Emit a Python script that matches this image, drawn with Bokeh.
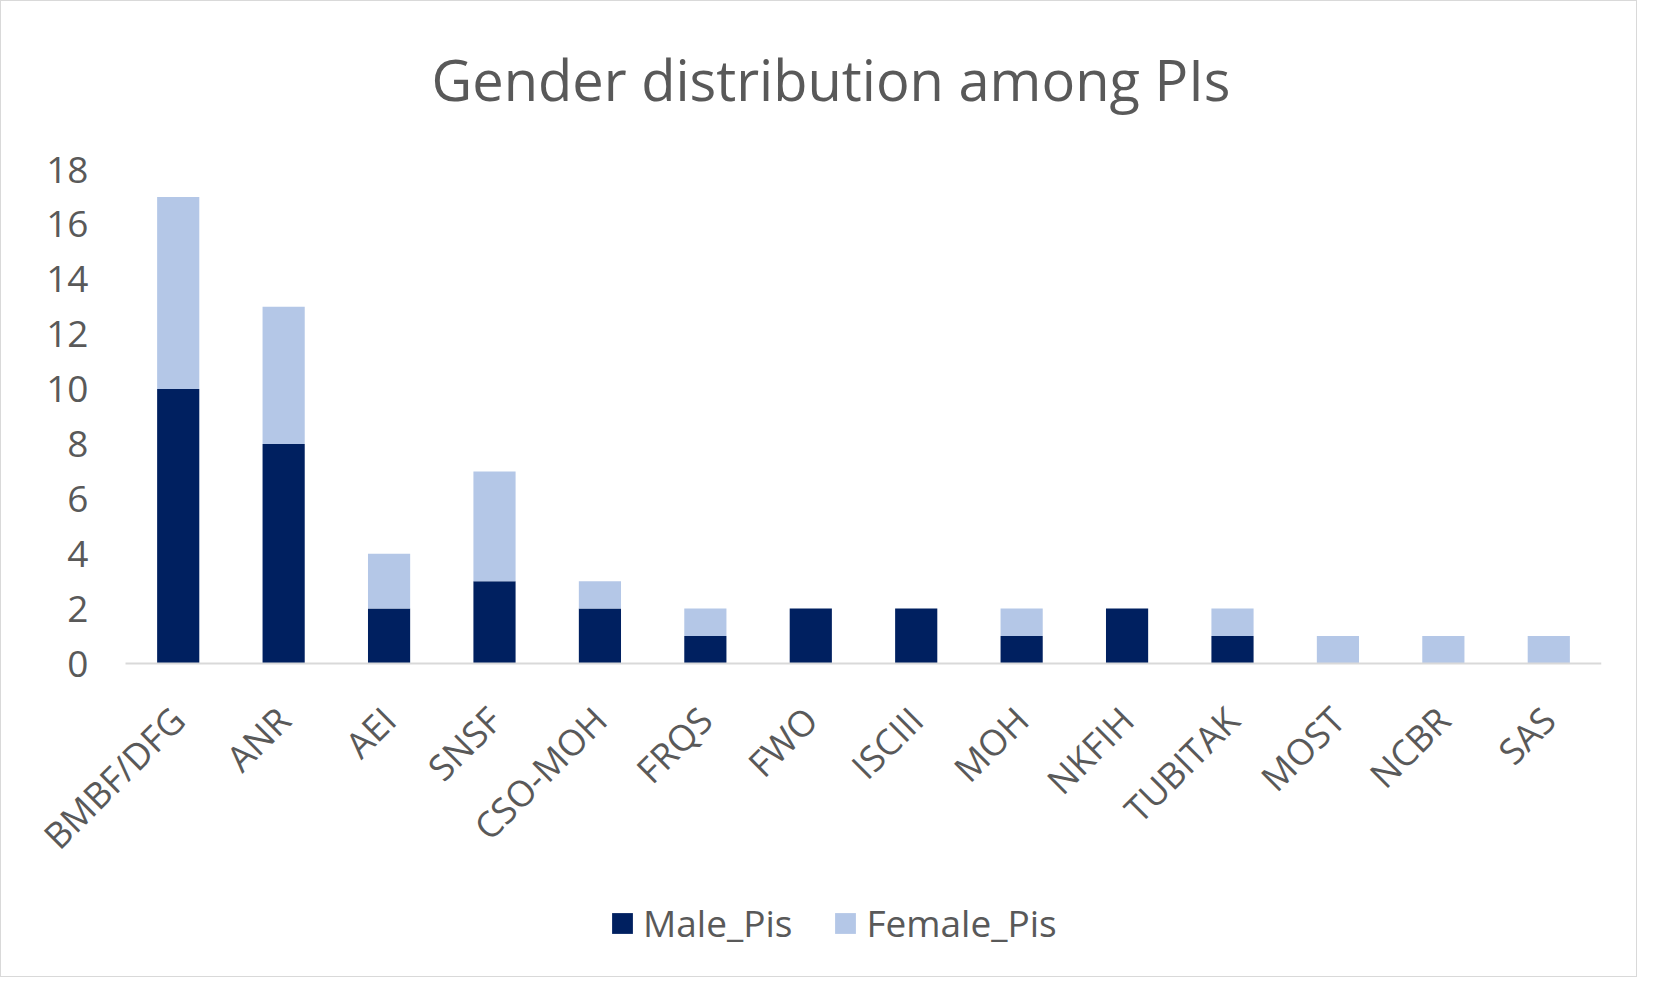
from bokeh.plotting import figure
from bokeh.models import Legend, LegendItem, Range1d, FixedTicker
from bokeh.core.properties import value
from bokeh.embed import file_html
from bokeh.resources import INLINE
from math import pi

categories = ["BMBF/DFG", "ANR", "AEI", "SNSF", "CSO-MOH", "FRQS", "FWO", "ISCIII",
              "MOH", "NKFIH", "TUBITAK", "MOST", "NCBR", "SAS"]
male_pis = [10, 8, 2, 3, 2, 1, 2, 2, 1, 2, 1, 0, 0, 0]
female_pis = [7, 5, 2, 4, 1, 1, 0, 0, 1, 0, 1, 1, 1, 1]
series = ["Male_Pis", "Female_Pis"]
colors = ["#002060", "#B4C7E7"]
y_ticks = [0, 2, 4, 6, 8, 10, 12, 14, 16, 18]

FONT = "Open Sans"
TXT = "#595959"

xs = list(range(len(categories)))
data = {"x": xs, "cat": categories, "Male_Pis": male_pis, "Female_Pis": female_pis}

# layout geometry (pixels inside the figure)
FRAME_L, PLOT_L, PLOT_R, FRAME_R = 30, 124, 1600, 1600
FRAME_T, TOP, ZERO, BOTTOM = 140, 168, 662, 970
px_per_unit = (ZERO - TOP) / 18.0
y_start = -(BOTTOM - ZERO) / px_per_unit
y_end = 18 + (TOP - FRAME_T) / px_per_unit
cat_w = (PLOT_R - PLOT_L) / len(categories)
x_start = -0.5 - (PLOT_L - FRAME_L) / cat_w
x_end = len(categories) - 0.5

p = figure(width=1637, height=977, output_backend="svg",
           toolbar_location=None, title="Gender distribution among PIs",
           min_border_left=FRAME_L, min_border_right=1637 - FRAME_R, min_border_top=FRAME_T,
           min_border_bottom=977 - BOTTOM)
p.x_range = Range1d(x_start, x_end)
p.y_range = Range1d(y_start, y_end)

r = p.vbar_stack(series, x="x", width=0.4, color=colors, source=data, line_width=0)

p.title.align = "left"
p.title.text_font = FONT
p.title.text_font_size = "56px"
p.title.text_font_style = "normal"
p.title.text_color = TXT
p.title.standoff = 49
p.title.offset = 400

p.xgrid.grid_line_color = None
p.ygrid.grid_line_color = None
p.outline_line_color = None

p.yaxis.fixed_location = -0.5
p.yaxis.ticker = FixedTicker(ticks=y_ticks)
p.yaxis.axis_line_color = None
p.yaxis.major_tick_line_color = None
p.yaxis.minor_tick_line_color = None
p.yaxis.major_label_text_font = FONT
p.yaxis.major_label_text_font_size = "37px"
p.yaxis.major_label_text_color = TXT
p.yaxis.major_label_standoff = 31

p.xaxis.fixed_location = 0
p.xaxis.bounds = (-0.5, x_end)
p.xaxis.ticker = FixedTicker(ticks=xs)
p.xaxis.major_label_overrides = {i: c for i, c in zip(xs, categories)}
p.xaxis.axis_line_color = "#D9D9D9"
p.xaxis.axis_line_width = 2
p.xaxis.major_tick_line_color = None
p.xaxis.minor_tick_line_color = None
p.xaxis.major_label_orientation = pi / 4
p.xaxis.major_label_text_font = FONT
p.xaxis.major_label_text_font_size = "36px"
p.xaxis.major_label_text_color = TXT
p.xaxis.major_label_standoff = 44

legend = Legend(items=[LegendItem(label=value(s), renderers=[rr]) for s, rr in zip(series, r)],
                orientation="horizontal", location=(578, 23))
legend.label_text_font = FONT
legend.label_text_font_size = "37px"
legend.label_text_color = TXT
legend.glyph_width = 26
legend.glyph_height = 26
legend.label_standoff = 8
legend.spacing = 40
legend.padding = 2
legend.margin = 0
legend.border_line_color = None
legend.background_fill_alpha = 0
p.add_layout(legend, "center")

p.styles = {"border": "1px solid #D9D9D9", "box-sizing": "border-box"}

open("out.html", "w").write(file_html(p, INLINE))
